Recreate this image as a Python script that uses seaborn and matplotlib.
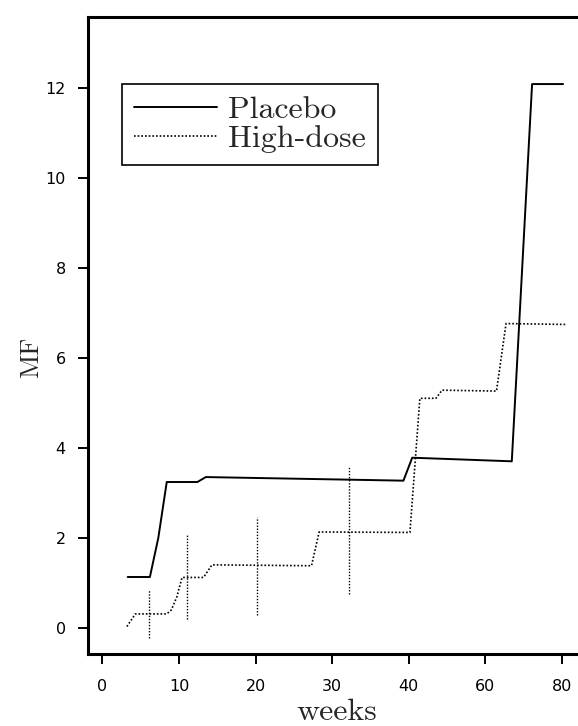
import numpy as np
import matplotlib
matplotlib.use('Agg')
import matplotlib.pyplot as plt
import seaborn as sns

# values (weeks, MF)
placebo_weeks = [3.3, 6.2, 7.3, 8.4, 12.4, 13.5, 39.3, 40.9, 66.9, 72.2, 80.3]
placebo_mf = [1.13, 1.13, 2.0, 3.24, 3.24, 3.35, 3.27, 3.78, 3.70, 12.08, 12.08]

highdose_weeks = [3.2, 4.3, 8.4, 9.0, 9.7, 10.4, 13.2, 14.3, 27.3, 28.3,
                  40.3, 42.9, 47.1, 48.7, 62.9, 65.4, 81.0]
highdose_mf = [0.03, 0.31, 0.31, 0.40, 0.68, 1.12, 1.12, 1.40, 1.38, 2.13,
               2.12, 5.10, 5.10, 5.28, 5.26, 6.76, 6.74]

# dotted vertical bars on the high-dose curve
bar_weeks = [6.1, 11.1, 20.2, 32.2]
bar_low = [-0.23, 0.19, 0.28, 0.75]
bar_high = [0.84, 2.07, 2.47, 3.58]

week_ticks = [0, 10, 20, 30, 40, 60, 80]
mf_ticks = [0, 2, 4, 6, 8, 10, 12]


# the week axis is squeezed after 40 (20 weeks per tick instead of 10)
def to_axis(w):
    w = np.asarray(w, dtype=float)
    return np.where(w <= 40, w / 10, 4 + (w - 40) / 20)


def from_axis(p):
    p = np.asarray(p, dtype=float)
    return np.where(p <= 4, p * 10, 40 + (p - 4) * 20)


sns.set_theme(style='ticks')
plt.rcParams['font.family'] = ['DejaVu Sans']

fig = plt.figure(figsize=(5.78, 7.26), dpi=100)
ax = fig.add_axes([0.152, 0.0992, 0.86, 0.8774])

dots = (0, (1, 1.2))
sns.lineplot(x=placebo_weeks, y=placebo_mf, ax=ax, color='black',
             linewidth=1.4, estimator=None, sort=False, label='Placebo')
sns.lineplot(x=highdose_weeks, y=highdose_mf, ax=ax, color='black',
             linewidth=1.2, linestyle=dots, estimator=None, sort=False,
             label='High-dose')
ax.vlines(bar_weeks, bar_low, bar_high, colors='black',
          linestyles=[dots], linewidth=1.0)

ax.set_xscale('function', functions=(to_axis, from_axis))
ax.set_xlim(-1.9, 86)
ax.set_ylim(-0.58, 13.57)
ax.set_xticks(week_ticks)
ax.set_xticklabels([str(t) for t in week_ticks])
ax.set_yticks(mf_ticks)
ax.minorticks_off()

for side in ['left', 'top', 'bottom']:
    ax.spines[side].set_linewidth(2.2)
    ax.spines[side].set_color('black')
ax.spines['right'].set_visible(False)

ax.tick_params(direction='out', length=7, width=1.4, labelsize=11.5,
               colors='black', top=False, right=False)
ax.tick_params(axis='x', pad=11)
ax.tick_params(axis='y', pad=9)

ax.set_xlabel('weeks', fontfamily='cmr10', fontsize=23, labelpad=3)
ax.set_ylabel('MF', fontfamily='cmr10', fontsize=19)
ax.yaxis.set_label_coords(-0.09, 0.466)

handles, labels = ax.get_legend_handles_labels()
leg = ax.legend(handles, labels, loc='upper left',
                bbox_to_anchor=(0.068, 0.895), borderaxespad=0,
                prop={'family': 'cmr10', 'size': 23},
                frameon=True, fancybox=False, framealpha=1,
                edgecolor='black', handlelength=2.6, handletextpad=0.35,
                labelspacing=0.0, borderpad=0.38)
leg.get_frame().set_linewidth(1.2)

fig.savefig('out.png', dpi=100)
